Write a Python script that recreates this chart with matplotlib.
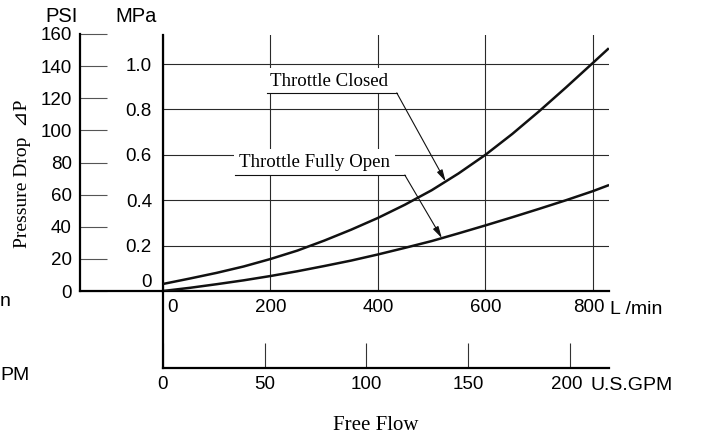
import numpy as np
import matplotlib.pyplot as plt
from matplotlib.transforms import ScaledTranslation

# values (flow in L/min, pressure drop in MPa)
flow_lpm = [0, 50, 100, 150, 200, 250, 300, 350, 400, 450,
            500, 550, 600, 650, 700, 750, 800, 828]
drop_closed = [0.031, 0.055, 0.080, 0.108, 0.141, 0.178, 0.222, 0.270, 0.322, 0.380,
               0.444, 0.518, 0.600, 0.692, 0.792, 0.897, 1.005, 1.066]
drop_open = [0.0, 0.014, 0.030, 0.047, 0.066, 0.087, 0.110, 0.134, 0.161, 0.190,
             0.220, 0.254, 0.289, 0.325, 0.362, 0.400, 0.440, 0.465]

lpm_ticks = [0, 200, 400, 600, 800]
gpm_ticks = [0, 50, 100, 150, 200]
mpa_ticks = [0, 0.2, 0.4, 0.6, 0.8, 1.0]
mpa_labels = ['0', '0.2', '0.4', '0.6', '0.8', '1.0']
psi_ticks = [0, 20, 40, 60, 80, 100, 120, 140, 160]

LPM_PER_GPM = 3.785

W, H = 704, 438
SANS = 'Liberation Sans'
SERIF = 'Liberation Serif'
TICK_FS = 13.5


def box(x0, y0, x1, y1):
    # pixel box (top-left origin) -> figure fraction rect
    return [x0 / W, 1 - y1 / H, (x1 - x0) / W, (y1 - y0) / H]


def px(x, y):
    return x / W, 1 - y / H


def nudge(label, dx_px):
    label.set_transform(label.get_transform() +
                        ScaledTranslation(dx_px / 100, 0, fig.dpi_scale_trans))


fig = plt.figure(figsize=(7.04, 4.38), dpi=100)

# main plot, L/min vs MPa
ax = fig.add_axes(box(163, 35, 609, 291))
ax.set_xlim(0, 830)
ax.set_ylim(0, 1.128)
for s in ['top', 'right']:
    ax.spines[s].set_visible(False)
for s in ['left', 'bottom']:
    ax.spines[s].set_linewidth(1.6)
ax.set_xticks(lpm_ticks)
ax.set_xticklabels([str(v) for v in lpm_ticks])
ax.set_yticks(mpa_ticks)
ax.set_yticklabels(mpa_labels)
ax.tick_params(axis='x', length=0, pad=6, labelsize=TICK_FS)
ax.tick_params(axis='y', length=0, pad=8, labelsize=TICK_FS)
for lab in ax.get_xticklabels() + ax.get_yticklabels():
    lab.set_family(SANS)
ax.grid(True, color='#2a2a2a', linewidth=0.8)

# "0" / "800" labels nudged like in the reference
nudge(ax.get_xticklabels()[0], 10)
nudge(ax.get_xticklabels()[-1], -4)
ax.get_yticklabels()[0].set_verticalalignment('bottom')

ax.plot(flow_lpm, drop_closed, color='#111111', linewidth=1.8, zorder=5)
ax.plot(flow_lpm, drop_open, color='#111111', linewidth=1.8, zorder=5)

notes = [
    ('Throttle Closed', drop_closed, 199, 0.925, 193.5, 435, 0.873, 526),
    ('Throttle Fully Open', drop_open, 141, 0.568, 134, 450, 0.511, 519),
]
for text, curve, tx, ty, ux0, ux1, uy, tip in notes:
    ax.text(tx, ty, text, family=SERIF, fontsize=13.6, ha='left', va='center',
            zorder=3, bbox=dict(facecolor='white', edgecolor='none', pad=3.5))
    ax.plot([ux0, ux1], [uy, uy], color='#111111', linewidth=0.8, zorder=4)
    ax.annotate('', xy=(tip, np.interp(tip, flow_lpm, curve)), xytext=(ux1, uy),
                arrowprops=dict(arrowstyle='-|>,head_length=0.7,head_width=0.18',
                                color='#111111', lw=0.8, shrinkA=0, shrinkB=0),
                zorder=4)

# US GPM scale under the plot
ax2 = fig.add_axes(box(163, 291, 609, 368))
ax2.set_xlim(0, 830 / LPM_PER_GPM)
ax2.set_ylim(0, 1)
for s in ['top', 'right']:
    ax2.spines[s].set_visible(False)
for s in ['left', 'bottom']:
    ax2.spines[s].set_linewidth(1.6)
ax2.patch.set_alpha(0)
ax2.set_yticks([])
ax2.set_xticks(gpm_ticks)
ax2.set_xticklabels([str(v) for v in gpm_ticks], family=SANS)
ax2.tick_params(axis='x', direction='in', length=18, width=0.8,
                color='#333333', pad=6, labelsize=TICK_FS)
nudge(ax2.get_xticklabels()[-1], -3)

# PSI scale at the left
ax3 = fig.add_axes(box(80, 34, 163, 291))
ax3.set_ylim(0, 160)
ax3.set_xlim(0, 1)
for s in ['top', 'right']:
    ax3.spines[s].set_visible(False)
for s in ['left', 'bottom']:
    ax3.spines[s].set_linewidth(1.6)
ax3.patch.set_alpha(0)
ax3.set_xticks([])
ax3.set_yticks(psi_ticks)
ax3.set_yticklabels([str(v) for v in psi_ticks], family=SANS)
ax3.tick_params(axis='y', direction='in', length=19.5, width=0.8,
                color='#555555', pad=6, labelsize=TICK_FS)

# unit / axis labels
fig.text(*px(62, 17), 'PSI', family=SANS, fontsize=14.5, ha='center', va='center')
fig.text(*px(136.5, 17), 'MPa', family=SANS, fontsize=14.5, ha='center', va='center')
fig.text(*px(610, 309), 'L /min', family=SANS, fontsize=14, ha='left', va='center')
fig.text(*px(590, 386), 'U.S.GPM', family=SANS, fontsize=14, ha='left', va='center')
fig.text(*px(375.5, 425), 'Free Flow', family=SERIF, fontsize=15, ha='center', va='center')
fig.text(*px(23, 173.5), 'Pressure Drop  \u22bfP', family=[SERIF, 'DejaVu Sans'],
         fontsize=14, rotation=90, ha='center', va='center')

# fragments of a neighbouring chart's labels at the left edge
fig.text(*px(0, 302), 'n', family=SANS, fontsize=14, ha='left', va='center')
fig.text(*px(0, 375), 'PM', family=SANS, fontsize=14, ha='left', va='center')

plt.savefig('out.png', dpi=100)
